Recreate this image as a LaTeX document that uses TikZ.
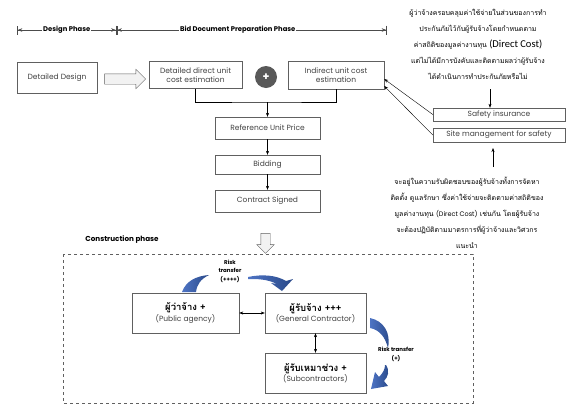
\documentclass[tikz,border=0pt]{standalone}
\usepackage{fontspec}
\setmainfont{Poppins}
\newfontfamily\thaifont[Script=Thai]{Loma}
\newfontfamily\carlito{Carlito}
\usetikzlibrary{arrows.meta,shapes.arrows}
\definecolor{boxline}{HTML}{606060}
\definecolor{txtgray}{HTML}{404040}
\definecolor{swooshA}{HTML}{4E74C4}
\definecolor{swooshB}{HTML}{284888}
\tikzset{box/.style={draw=boxline,align=center,inner sep=1pt,text=txtgray,font=\fontsize{7.5}{9}\selectfont},
arr/.style={-{Stealth[length=4pt,width=3pt]}},
darr/.style={{Stealth[length=4pt,width=3pt]}-{Stealth[length=4pt,width=3pt]}},
phase/.style={draw=black!70,{Bar[width=9pt,line width=0.8pt]Stealth[length=4.5pt,width=3.5pt]}-{Stealth[length=4.5pt,width=3.5pt]Bar[width=9pt,line width=0.8pt]}},
hollow/.style={single arrow,draw=boxline,fill=gray!10,inner sep=5pt,single arrow head extend=4.5pt},
swoosh/.style={left color=swooshA,right color=swooshB,draw=none},
note/.style={align=center,font=\thaifont\fontsize{7}{16}\selectfont}}

\begin{document}
\begin{tikzpicture}[x=1pt,y=-1pt]
\useasboundingbox(0,0)rectangle(573,408);
% phase line
\coordinate(p0)at(17,30);\coordinate(p1)at(116.5,30);\coordinate(p2)at(387,30);
\draw[phase](p0)--node[fill=white,inner sep=1pt,font=\bfseries\fontsize{6.8}{8}\selectfont]{Design Phase}(p1);
\draw[phase](p1)--node[fill=white,inner sep=1pt,font=\bfseries\fontsize{6.8}{8}\selectfont,xshift=-14pt]{Bid Document Preparation Phase}(p2);
% bid document boxes
\node[box,minimum width=80,minimum height=31](design)at(57,78){Detailed Design};
\node[hollow,minimum height=41](harr)at(122.5,79){};
\node[box,minimum width=93,minimum height=27](direct)at(195.5,75){Detailed direct unit\\cost estimation};
\node[circle,fill=black!65,minimum size=22,inner sep=0pt,text=white,font=\bfseries\fontsize{11}{11}\selectfont](plus)at(266,77){+};
\node[box,minimum width=96,minimum height=28](indirect)at(336,75){Indirect unit cost\\estimation};
\node[box,minimum width=105,minimum height=22](refprice)at(267.5,128){Reference Unit Price};
\node[box,minimum width=105,minimum height=19](bidding)at(267.5,164.5){Bidding};
\node[box,minimum width=105,minimum height=22](contract)at(267.5,201){Contract Signed};
\coordinate(j)at(267.5,102);
\draw(direct.south)|-(j)-|(indirect.south);
\foreach\a/\b in{j/refprice,refprice/bidding,bidding/contract}\draw[arr](\a)--(\b);
% safety
\node[box,minimum width=132,minimum height=13](safety)at(499,114.5){Safety insurance};
\node[box,minimum width=132,minimum height=14](sitemgmt)at(499,135){Site management for safety};
\draw[arr](safety.west)--([yshift=-4pt]indirect.east);
\draw[arr](sitemgmt.west)--([yshift=-11pt]indirect.east);
\node[note](note1)at(478,44){ผู้ว่าจ้างครอบคลุมค่าใช้จ่ายในส่วนของการทำ\\ประกันภัยไว้กับผู้รับจ้างโดยกำหนดตาม\\ค่าสถิติของมูลค่างานทุน {\carlito\fontsize{10.5}{12}\selectfont (Direct Cost)}\\แต่ไม่ได้มีการบังคับและติดตามผลว่าผู้รับจ้าง\\ได้ดำเนินการทำประกันภัยหรือไม่};
\node[note](note2)at(467,212.5){จะอยู่ในความรับผิดชอบของผู้รับจ้างทั้งการจัดหา\\ติดตั้ง ดูแลรักษา ซึ่งค่าใช้จ่ายจะติดตามค่าสถิติของ\\มูลค่างานทุน {\rmfamily\fontsize{6.5}{8}\selectfont(Direct Cost)} เช่นกัน โดยผู้รับจ้าง\\จะต้องปฏิบัติตามมาตรการที่ผู้ว่าจ้างและวิศวกร\\แนะนำ};
\coordinate(n1)at(490,89);\coordinate(n2)at(493,167);
\draw[arr](n1)--(n1|-safety.north);
\draw[arr](n2)--(493,148);
% construction phase
\node[hollow,minimum height=20,shape border rotate=270,inner sep=4.5pt,single arrow head extend=4pt](darrow)at(265.5,241){};
\node[font=\bfseries\fontsize{7.2}{8}\selectfont](cphase)at(122,240){Construction phase};
\draw[dashed,draw=boxline](63,254)rectangle(473,403);
\node[box,minimum width=107,minimum height=40](public)at(185.5,313){{\thaifont\bfseries\color{black}\fontsize{9.5}{11}\selectfont ผู้ว่าจ้าง +}\\(Public agency)};
\node[box,minimum width=101,minimum height=40](general)at(315.5,313){{\thaifont\bfseries\color{black}\fontsize{9.5}{11}\selectfont ผู้รับจ้าง +++}\\(General Contractor)};
\node[box,minimum width=101,minimum height=40](sub)at(315.5,373){{\thaifont\bfseries\color{black}\fontsize{9.5}{11}\selectfont ผู้รับเหมาช่วง +}\\(Subcontractors)};
\draw[darr](public)--(general);
\draw[darr](general)--(sub);
\node[align=center,font=\bfseries\fontsize{5.5}{8.5}\selectfont](risk1)at(230,271){Risk\\transfer\\(++++)};
\node[align=center,font=\bfseries\fontsize{5.5}{8.5}\selectfont](risk2)at(396,354.5){Risk transfer\\(+)};
\path[swoosh](182,292)..controls(186,281)and(196,276)..(209,275)..controls(201,279)and(197,284)..(196,292)--cycle;
\path[swoosh](248,277)..controls(262,274)and(276,275)..(286,281)--(293,279)--(282,291)--(271,283)--(277,284)..controls(267,279)and(258,279)..(248,279)--cycle;
\path[swoosh](370,318)..controls(384,321)and(391,333)..(388,348)..controls(385,337)and(380,330)..(370,328)--cycle;
\path[swoosh](386,365)..controls(390,371)and(388,377)..(384,381)--(388,386)--(371,389)--(375,372)--(379,377)..controls(383,373)and(385,369)..(385,365)--cycle;
\end{tikzpicture}
\end{document}
